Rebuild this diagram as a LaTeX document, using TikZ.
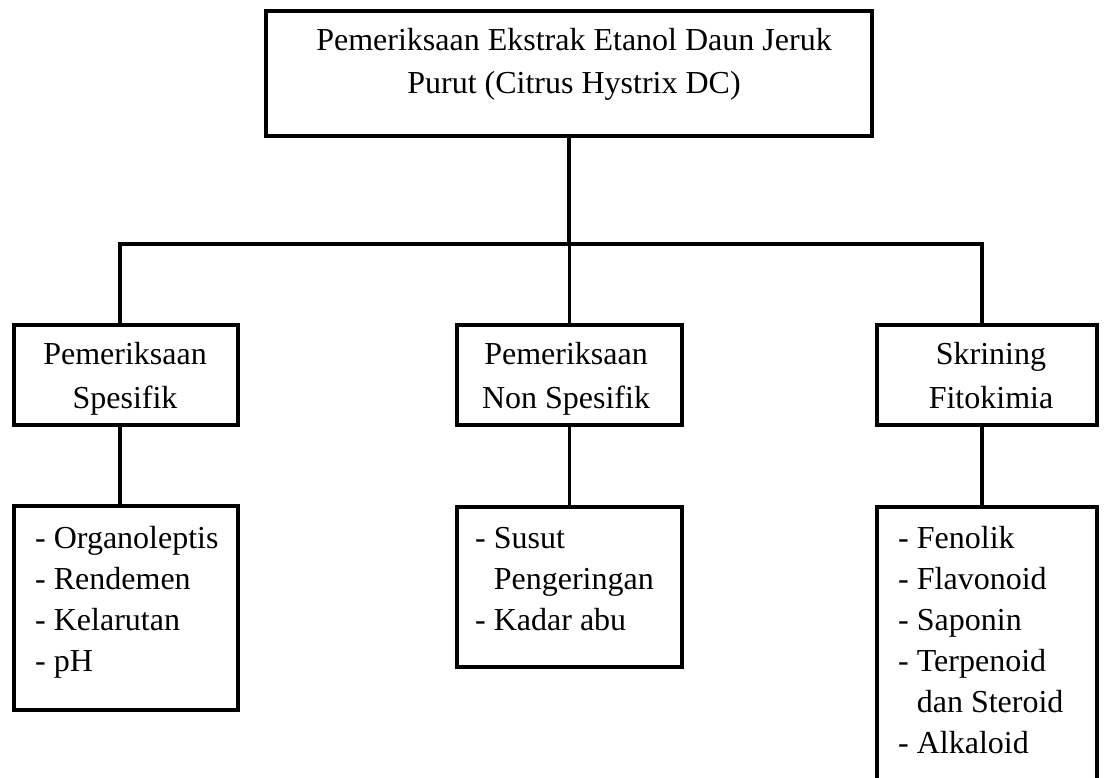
\documentclass[tikz,border=0pt]{standalone}
\usepackage{fontspec}
\setmainfont{Liberation Serif}
\usetikzlibrary{positioning}
\tikzstyle{chart} = [x = 1pt, y = -1pt]
\tikzstyle{boxStyle} = [draw, line width = 3.6pt, inner sep = 0pt]
\tikzstyle{connectorLine} = [line width = 3.6pt]
\tikzstyle{boxText} = [font=\fontsize{32}{44}\selectfont, align=center, anchor=base, inner sep=0pt]
\tikzstyle{listText} = [font=\fontsize{32}{41}\selectfont, align=left, anchor=base west, inner sep=0pt]
\newcommand{\chartBox}[5]{\node [boxStyle, anchor=north west, minimum width=#4pt, minimum height=#5pt] (#1) at (#2,#3) {};}
\newcommand{\dash}{-~}
\newcommand{\hang}{\hphantom{-~}}

\begin{document}
\begin{tikzpicture}[chart]
  \useasboundingbox (0,0) rectangle (1106,778);
  \clip (0,0) rectangle (1106,778);
  % boxes
  \chartBox{topBox}{264}{9}{606}{125}
  \chartBox{specBox}{12}{323}{224}{100}
  \chartBox{nonSpecBox}{455}{323}{225}{100}
  \chartBox{fitoBox}{875}{323}{220}{100}
  \chartBox{specList}{12}{504}{224}{204}
  \chartBox{nonSpecList}{455}{505}{225}{160}
  \chartBox{fitoList}{875}{505}{220}{330}
  % texts (placed by the baseline of their last line)
  \node [boxText, font=\fontsize{32}{43}\selectfont] (topText) at (574,94) {Pemeriksaan Ekstrak Etanol Daun Jeruk\\Purut (Citrus Hystrix DC)};
  \node [boxText] (specText) at (125,408) {Pemeriksaan\\Spesifik};
  \node [boxText] (nonSpecText) at (566,408) {Pemeriksaan\\Non Spesifik};
  \node [boxText] (fitoText) at (991,408) {Skrining\\Fitokimia};
  \node [listText] (specItems) at (35,671) {\dash Organoleptis\\\dash Rendemen\\\dash Kelarutan\\\dash pH};
  \node [listText] (nonSpecItems) at (475,630) {\dash Susut\\\hang Pengeringan\\\dash Kadar abu};
  \node [listText] (fitoItems) at (898,753) {\dash Fenolik\\\dash Flavonoid\\\dash Saponin\\\dash Terpenoid\\\hang dan Steroid\\\dash Alkaloid};
  % connectors
  \coordinate (busLeft) at (120,244);
  \coordinate (busRight) at (982,244);
  \draw [connectorLine] (topBox.south) -- (topBox.south |- busLeft);
  \draw [connectorLine, line cap=rect] (busLeft) -- (busRight);
  \draw [connectorLine] (busLeft) -- (busLeft |- specBox.north);
  \draw [connectorLine] (nonSpecBox.north) -- (nonSpecBox.north |- busLeft);
  \draw [connectorLine] (busRight) -- (busRight |- fitoBox.north);
  \draw [connectorLine] (specBox.south -| busLeft) -- (specList.north -| busLeft);
  \draw [connectorLine] (nonSpecBox.south) -- (nonSpecList.north);
  \draw [connectorLine] (fitoBox.south -| busRight) -- (fitoList.north -| busRight);
\end{tikzpicture}
\end{document}
